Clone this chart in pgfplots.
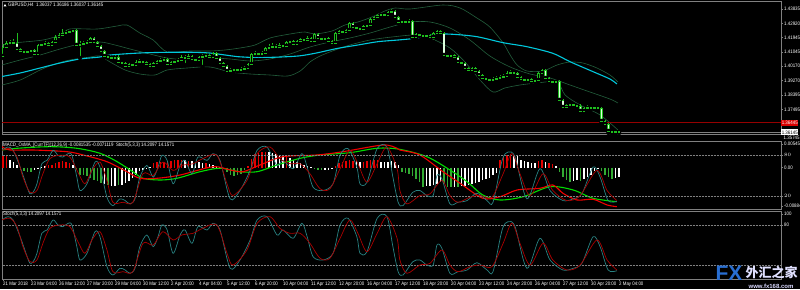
\documentclass[border=0pt]{standalone}
\usepackage{pgfplots}
\pgfplotsset{compat=1.18}
\usepackage{pgfplotstable}
\usepackage{fontspec}
\setmainfont{Liberation Sans}
\newfontfamily\mtfont[FakeStretch=0.88]{Liberation Sans}
\newfontfamily\cjk{Noto Sans CJK SC}
\newcommand{\mts}{\mtfont\fontsize{5}{6}\selectfont}

\definecolor{mtgray}{RGB}{128,128,128}
\definecolor{wick}{RGB}{30,190,30}
\definecolor{bearbody}{RGB}{220,255,220}
\definecolor{bandgreen}{RGB}{35,95,60}
\definecolor{macyan}{RGB}{0,200,220}
\definecolor{stteal}{RGB}{40,130,130}
\definecolor{stred}{RGB}{170,0,0}
\definecolor{histgreen}{RGB}{50,170,50}
\definecolor{histred}{RGB}{230,0,0}
\definecolor{linegreen}{RGB}{0,220,0}
\definecolor{linered}{RGB}{240,0,0}
\definecolor{pricered}{RGB}{150,0,0}
\definecolor{fxblue}{RGB}{40,110,210}

\pgfplotstableread{
i o h l c
0 1.40780 1.41560 1.40650 1.41365
1 1.41365 1.41755 1.41300 1.41625
2 1.41625 1.41820 1.41560 1.41690
3 1.41690 1.41885 1.41560 1.41625
4 1.41625 1.42275 1.41170 1.41235
5 1.41235 1.41300 1.41040 1.41105
6 1.41105 1.41170 1.40975 1.41040
7 1.41040 1.41170 1.40975 1.41105
8 1.41105 1.41235 1.41040 1.41170
9 1.41170 1.41235 1.40845 1.40910
10 1.40910 1.41560 1.40780 1.41495
11 1.41495 1.41625 1.41430 1.41560
12 1.41560 1.41755 1.41495 1.41625
13 1.41625 1.41690 1.41430 1.41495
14 1.41495 1.41755 1.41430 1.41690
15 1.41690 1.42145 1.41625 1.42015
16 1.42015 1.42275 1.41950 1.42145
17 1.42145 1.42535 1.42080 1.42275
18 1.42275 1.42470 1.42210 1.42340
19 1.42340 1.42470 1.42275 1.42405
20 1.42405 1.42535 1.42340 1.42470
21 1.42470 1.42535 1.41430 1.41495
22 1.41495 1.41755 1.40650 1.41560
23 1.41560 1.41755 1.41495 1.41625
24 1.41625 1.41820 1.41560 1.41690
25 1.41690 1.42015 1.41625 1.41950
26 1.41950 1.42015 1.41625 1.41690
27 1.41690 1.41755 1.41365 1.41430
28 1.41430 1.41495 1.41040 1.41105
29 1.41105 1.41170 1.40715 1.40780
30 1.40780 1.40845 1.40650 1.40715
31 1.40715 1.40780 1.40585 1.40650
32 1.40650 1.40845 1.40585 1.40715
33 1.40715 1.40845 1.40325 1.40390
34 1.40390 1.40455 1.40260 1.40325
35 1.40325 1.40390 1.40065 1.40130
36 1.40130 1.40325 1.40065 1.40260
37 1.40260 1.40325 1.40130 1.40195
38 1.40195 1.40520 1.40130 1.40390
39 1.40390 1.40585 1.40325 1.40455
40 1.40455 1.40520 1.40325 1.40390
41 1.40390 1.40455 1.40195 1.40260
42 1.40260 1.40325 1.40065 1.40130
43 1.40130 1.40390 1.40065 1.40325
44 1.40325 1.40520 1.40260 1.40455
45 1.40455 1.40650 1.40390 1.40520
46 1.40520 1.40715 1.40455 1.40585
47 1.40585 1.40650 1.40195 1.40260
48 1.40260 1.40455 1.40195 1.40390
49 1.40390 1.40520 1.40325 1.40455
50 1.40455 1.40650 1.40390 1.40520
51 1.40520 1.40845 1.40455 1.40715
52 1.40715 1.40845 1.40195 1.40650
53 1.40650 1.40910 1.40585 1.40780
54 1.40780 1.40845 1.40520 1.40585
55 1.40585 1.40650 1.40455 1.40520
56 1.40520 1.40780 1.40455 1.40715
57 1.40715 1.40910 1.40065 1.40780
58 1.40780 1.40975 1.40715 1.40845
59 1.40845 1.40910 1.40650 1.40715
60 1.40715 1.41040 1.40650 1.40975
61 1.40975 1.41040 1.40585 1.40650
62 1.40650 1.40715 1.40260 1.40325
63 1.40325 1.40390 1.40065 1.40130
64 1.40130 1.40195 1.39545 1.39805
65 1.39805 1.40000 1.39740 1.39870
66 1.39870 1.40000 1.39805 1.39935
67 1.39935 1.40000 1.39805 1.39870
68 1.39870 1.40065 1.39805 1.39935
69 1.39935 1.40130 1.39870 1.40000
70 1.40000 1.40325 1.39935 1.40260
71 1.40260 1.40975 1.40195 1.40910
72 1.40910 1.41105 1.40845 1.40975
73 1.40975 1.41040 1.40845 1.40910
74 1.40910 1.41105 1.40845 1.40975
75 1.40975 1.41365 1.40910 1.41300
76 1.41300 1.41560 1.41235 1.41365
77 1.41365 1.41625 1.41300 1.41430
78 1.41430 1.41560 1.41300 1.41365
79 1.41365 1.41625 1.41300 1.41495
80 1.41495 1.41560 1.41365 1.41430
81 1.41430 1.41755 1.41365 1.41690
82 1.41690 1.41820 1.41625 1.41755
83 1.41755 1.41820 1.41495 1.41560
84 1.41560 1.41820 1.41495 1.41755
85 1.41755 1.41950 1.41690 1.41885
86 1.41885 1.41950 1.41755 1.41820
87 1.41820 1.42080 1.41755 1.41950
88 1.41950 1.42015 1.41690 1.41755
89 1.41755 1.42275 1.41690 1.42210
90 1.42210 1.42275 1.41885 1.41950
91 1.41950 1.42015 1.41820 1.41885
92 1.41885 1.42015 1.41820 1.41950
93 1.41950 1.42015 1.41690 1.41755
94 1.41755 1.41820 1.41560 1.41625
95 1.41625 1.42340 1.41560 1.42275
96 1.42275 1.42470 1.42210 1.42405
97 1.42405 1.42470 1.42275 1.42340
98 1.42340 1.42535 1.42275 1.42470
99 1.42470 1.42990 1.42405 1.42925
100 1.42925 1.42990 1.42600 1.42665
101 1.42665 1.42730 1.42535 1.42600
102 1.42600 1.42665 1.42470 1.42535
103 1.42535 1.42795 1.42470 1.42730
104 1.42730 1.42860 1.42665 1.42795
105 1.42795 1.43250 1.42730 1.43185
106 1.43185 1.43380 1.43120 1.43315
107 1.43315 1.43510 1.43250 1.43445
108 1.43445 1.43575 1.43380 1.43510
109 1.43510 1.43575 1.43380 1.43445
110 1.43445 1.43705 1.43380 1.43640
111 1.43640 1.43835 1.43575 1.43705
112 1.43705 1.43770 1.43250 1.43315
113 1.43315 1.43380 1.42925 1.42990
114 1.42990 1.43120 1.42925 1.43055
115 1.43055 1.43120 1.42925 1.42990
116 1.42990 1.43185 1.42925 1.43055
117 1.43055 1.43120 1.41950 1.42015
118 1.42015 1.42275 1.41950 1.42210
119 1.42210 1.42275 1.42080 1.42145
120 1.42145 1.42210 1.42015 1.42080
121 1.42080 1.42210 1.42015 1.42145
122 1.42145 1.42210 1.41950 1.42015
123 1.42015 1.42340 1.41690 1.42275
124 1.42275 1.42470 1.42015 1.42405
125 1.42405 1.42470 1.42210 1.42275
126 1.42275 1.42340 1.40780 1.40845
127 1.40845 1.40910 1.40715 1.40780
128 1.40780 1.40910 1.40715 1.40845
129 1.40845 1.40910 1.40650 1.40715
130 1.40715 1.40780 1.40325 1.40390
131 1.40390 1.40455 1.40260 1.40325
132 1.40325 1.40390 1.39935 1.40000
133 1.40000 1.40065 1.39805 1.39870
134 1.39870 1.40065 1.39805 1.40000
135 1.40000 1.40065 1.39740 1.39805
136 1.39805 1.39870 1.39480 1.39545
137 1.39545 1.39610 1.39285 1.39350
138 1.39350 1.39415 1.39220 1.39285
139 1.39285 1.39350 1.39155 1.39220
140 1.39220 1.39415 1.39155 1.39285
141 1.39285 1.39480 1.39220 1.39350
142 1.39350 1.39545 1.39285 1.39415
143 1.39415 1.39610 1.39350 1.39480
144 1.39480 1.39805 1.39415 1.39675
145 1.39675 1.39870 1.39610 1.39740
146 1.39740 1.39805 1.39610 1.39675
147 1.39675 1.39740 1.39350 1.39415
148 1.39415 1.39480 1.39220 1.39285
149 1.39285 1.39350 1.39155 1.39220
150 1.39220 1.39350 1.39155 1.39285
151 1.39285 1.39350 1.39090 1.39155
152 1.39155 1.39285 1.39090 1.39220
153 1.39220 1.39740 1.38960 1.39675
154 1.39675 1.39935 1.39545 1.39870
155 1.39870 1.39935 1.39285 1.39350
156 1.39350 1.39415 1.39090 1.39155
157 1.39155 1.39220 1.39025 1.39090
158 1.39090 1.39220 1.39025 1.39155
159 1.39155 1.39220 1.37855 1.37920
160 1.37920 1.37985 1.37400 1.37465
161 1.37465 1.37660 1.37400 1.37595
162 1.37595 1.37725 1.37530 1.37660
163 1.37660 1.37725 1.37530 1.37595
164 1.37595 1.37660 1.37465 1.37530
165 1.37530 1.37660 1.37140 1.37205
166 1.37205 1.37465 1.37140 1.37400
167 1.37400 1.37595 1.37335 1.37465
168 1.37465 1.37530 1.37335 1.37400
169 1.37400 1.37530 1.37335 1.37465
170 1.37465 1.37530 1.37335 1.37400
171 1.37400 1.37465 1.36490 1.36555
172 1.36555 1.36620 1.36230 1.36360
173 1.36360 1.36425 1.35775 1.35905
174 1.35905 1.35970 1.35710 1.35840
175 1.35840 1.35970 1.35710 1.35905
176 1.35905 1.35970 1.35775 1.35840
}\candles

\pgfplotstableread{
i s
-0.3 87.3
1.4 92.2
2.9 87.3
4.9 62.6
6.9 33.0
7.7 23.2
8.6 25.6
9.7 38.0
11.1 67.6
12.6 72.5
14.3 87.3
15.7 79.9
17.1 77.4
18.6 82.4
19.7 79.9
21.1 47.8
22.0 28.1
24.0 38.0
26.3 70.0
27.7 62.6
29.7 18.2
31.4 5.9
33.4 15.8
34.9 13.3
36.3 8.4
37.7 15.8
39.1 47.8
41.1 65.1
42.9 47.8
44.3 62.6
45.4 79.9
46.9 72.5
48.6 38.0
50.6 65.1
52.0 72.5
54.0 52.8
55.7 77.4
58.3 72.5
60.0 82.4
62.0 72.5
64.9 15.8
67.7 28.1
70.6 57.7
72.6 87.3
75.4 92.2
78.3 65.1
80.0 72.5
82.9 60.2
85.4 82.4
86.9 62.6
88.6 33.0
91.4 28.1
94.3 38.0
96.3 79.9
98.6 89.8
101.1 62.6
102.0 38.0
104.0 40.4
106.9 89.8
109.7 92.2
111.4 47.8
112.9 10.8
114.3 5.9
117.1 25.6
119.1 28.1
121.1 20.7
122.9 20.7
124.0 50.3
125.4 45.4
127.7 8.4
130.0 10.8
132.6 13.3
135.4 24.1
138.3 13.3
140.0 10.8
142.6 72.5
144.3 84.8
146.3 77.4
149.7 15.8
153.4 60.2
156.3 28.1
160.0 13.3
162.9 15.8
165.4 23.2
168.6 62.6
170.6 47.8
172.9 13.3
175.4 12.3
}\stochmain

\pgfplotstableread{
i s
-0.3 87.3
2.0 89.8
4.0 77.4
5.7 47.8
7.7 25.6
9.7 28.1
11.4 52.8
13.4 75.0
16.3 79.9
19.1 77.4
21.4 55.2
23.4 38.0
25.4 57.7
27.7 70.0
29.7 42.9
31.4 10.8
34.3 10.8
37.1 10.8
40.0 52.8
42.9 50.3
45.7 70.0
48.6 57.7
51.1 65.1
54.3 67.6
57.1 75.0
61.1 79.9
64.0 38.0
65.7 20.7
69.7 42.9
72.6 82.4
76.3 92.2
79.1 75.0
82.0 67.6
84.9 67.6
87.7 52.8
90.6 30.6
93.4 30.6
96.3 60.2
99.1 87.3
101.4 67.6
104.0 40.4
106.9 67.6
109.7 92.2
112.6 60.0
113.4 28.1
115.4 8.4
119.1 20.7
122.0 23.2
125.4 42.9
127.7 20.7
130.0 10.8
133.4 18.2
136.3 20.7
139.7 18.2
142.9 52.8
145.4 82.4
147.7 52.8
150.6 20.7
154.3 52.8
157.1 28.1
161.1 13.3
164.9 20.7
169.7 57.7
172.6 28.1
175.4 13.3
}\stochsig

\pgfplotsset{
  mtpanel/.style={
    scale only axis, width=779pt,
    xmin=-0.286, xmax=222.29,
    axis line style={draw=mtgray, line width=0.6pt},
    xtick=\empty, scaled y ticks=false, scaled x ticks=false,
    ytick pos=right, yticklabel pos=right,
    tick align=outside, major tick length=2pt,
    tick style={draw=mtgray, line width=0.5pt},
    yticklabel style={font=\mts, text=white, inner sep=1pt},
    clip=true,
  },
  mtover/.style={
    scale only axis, width=779pt,
    xmin=-0.286, xmax=222.29,
    axis line style={draw=none},
    xtick=\empty, scaled y ticks=false,
    ytick pos=right, yticklabel pos=right,
    tick align=outside, major tick length=2pt,
    tick style={draw=mtgray, line width=0.5pt},
    yticklabel style={font=\mts, text=white, inner sep=1pt},
    clip=true,
  },
  body/.style={only marks, mark=none, error bars/.cd, y dir=plus, y explicit, error mark=none},
}

\begin{document}
\begin{tikzpicture}[x=1pt,y=1pt]
\path[use as bounding box] (0,0) rectangle (800,289);
\fill[black] (0,0) rectangle (800,289);
\clip (0,0) rectangle (800,289);

% ---------------- main price panel ----------------
\begin{axis}[mtpanel, at={(2pt,155pt)}, anchor=south west, height=132.5pt,
  ymin=1.3571, ymax=1.443225,
  ytick={1.43835,1.42893,1.41970,1.41040,1.40130,1.39188,1.38245,1.37303},
  yticklabels={1.43835,1.42920,1.41945,1.41045,1.40170,1.39270,1.38395,1.37495}]
% bollinger bands
\addplot[bandgreen, line width=0.6pt, smooth] coordinates {
(-0.3,1.41495)(2.9,1.41625)(11.4,1.41820)(16.3,1.42145)(19.1,1.42535)(26.9,1.42535)
(32.6,1.42730)(35.4,1.42795)(39.1,1.42275)(42.9,1.41820)(46.9,1.41040)(53.4,1.41105)
(59.1,1.41105)(63.4,1.41170)(67.7,1.41300)(72,1.41495)(76.3,1.41950)(82,1.42210)
(86.3,1.42340)(89.1,1.42210)(94,1.42405)(97.7,1.42795)(101.4,1.42990)(105.4,1.43315)
(109.1,1.43705)(112,1.43900)(116.3,1.43835)(125.7,1.44095)(130.6,1.43900)(135.4,1.43250)
(139.1,1.42665)(142.9,1.41625)(144.9,1.40845)(146.9,1.40195)(149.7,1.39805)(154.3,1.39805)
(158.3,1.40195)(162,1.40390)(165.7,1.40325)(169.7,1.40000)(173.4,1.39545)(175.7,1.39090)};
\addplot[bandgreen, line width=0.6pt, smooth] coordinates {
(-0.3,1.40195)(4.9,1.40520)(10.6,1.40845)(16.3,1.41235)(22,1.41560)(27.7,1.41690)
(32,1.41495)(36.3,1.41235)(42,1.40910)(46.9,1.40650)(53.4,1.40520)(59.1,1.40650)
(64.9,1.40585)(70.6,1.40455)(76.3,1.40585)(82,1.40910)(87.7,1.41365)(93.4,1.41690)
(99.1,1.41950)(104.9,1.42275)(110.6,1.42665)(116.3,1.42990)(122,1.42990)(127.7,1.42600)
(133.4,1.41820)(139.1,1.40780)(144.9,1.40065)(150.6,1.39610)(156.3,1.39350)(162,1.38895)
(167.7,1.38440)(173.4,1.37985)(175.7,1.37725)};
\addplot[bandgreen, line width=0.6pt, smooth] coordinates {
(-0.3,1.38895)(4.9,1.39220)(10.6,1.39870)(14.9,1.40260)(19.1,1.40520)(24.9,1.40715)
(27.7,1.40780)(30.6,1.40390)(34.9,1.39870)(39.1,1.39610)(43.4,1.39545)(46.9,1.39870)
(52.6,1.40000)(59.1,1.40065)(64.9,1.39740)(70.6,1.39610)(76.3,1.39545)(81.4,1.39480)
(84.9,1.39805)(87.7,1.40390)(90.6,1.40780)(94.9,1.41170)(99.1,1.41495)(104.9,1.41820)
(111.1,1.42015)(117.7,1.42145)(122,1.41950)(127.7,1.41300)(132,1.40390)(136.3,1.39220)
(140,1.38440)(143.4,1.38700)(147.7,1.38895)(152.6,1.39025)(158.3,1.39090)(160.6,1.38245)
(164.9,1.37595)(170.6,1.36945)(175.7,1.35970)};
% long moving average
\addplot[macyan, line width=1.1pt, smooth] coordinates {
(-0.3,1.39448)(4.9,1.39675)(10.6,1.40000)(16.3,1.40325)(22,1.40585)(27.7,1.40715)
(30.6,1.40845)(39.1,1.40975)(46.9,1.41020)(54.3,1.41020)(59.1,1.40975)(61.4,1.40910)
(67.1,1.40735)(70,1.40696)(76.9,1.40696)(84.3,1.40780)(89.1,1.40955)(95.7,1.41280)
(101.4,1.41495)(107.1,1.41710)(112.9,1.41820)(117.7,1.41930)(124,1.42190)(128.6,1.42190)
(135.4,1.42035)(142.9,1.41645)(149.7,1.41385)(157.1,1.40955)(162,1.40410)(168.6,1.39760)
(173.4,1.39285)(175.4,1.38960)};
% price lines
\addplot[pricered, line width=0.6pt] coordinates {(-1,1.36445)(223,1.36445)};
\addplot[mtgray, line width=0.6pt] coordinates {(-1,1.35820)(223,1.35820)};
% candles: wicks
\addplot[body, error bar style={draw=wick, line width=0.8pt}]
  table[x=i, y=l, y error expr=\thisrow{h}-\thisrow{l}] {\candles};
% bull bodies (hollow)
\addplot[restrict expr to domain={\thisrow{c}-\thisrow{o}}{0:1}, body,
  error bar style={draw=wick, line width=2.5pt}]
  table[x=i, y=o, y error expr=\thisrow{c}-\thisrow{o}] {\candles};
\addplot[restrict expr to domain={\thisrow{c}-\thisrow{o}}{0:1}, body,
  error bar style={draw=black, line width=1.0pt}]
  table[x=i, y=o, y error expr=\thisrow{c}-\thisrow{o}] {\candles};
% bear bodies (filled)
\addplot[restrict expr to domain={\thisrow{o}-\thisrow{c}}{0:1}, body,
  error bar style={draw=wick, line width=2.5pt}]
  table[x=i, y=c, y error expr=\thisrow{o}-\thisrow{c}] {\candles};
\addplot[restrict expr to domain={\thisrow{o}-\thisrow{c}}{0:1}, body,
  error bar style={draw=bearbody, line width=1.1pt}]
  table[x=i, y=c, y error expr=\thisrow{o}-\thisrow{c}] {\candles};
% top and bottom edges of the bodies
\addplot[only marks, mark=-, mark size=1.25pt, mark options={draw=wick, line width=0.7pt}]
  table[x=i, y=o] {\candles};
\addplot[only marks, mark=-, mark size=1.25pt, mark options={draw=wick, line width=0.7pt}]
  table[x=i, y=c] {\candles};
\end{axis}

% ---------------- MACD / OsMA panel ----------------
\begin{axis}[mtpanel, at={(2pt,79.4pt)}, anchor=south west, height=67.9pt,
  ymin=-0.008842, ymax=0.005458,
  ytick={0.004974,0,-0.008084},
  yticklabels={0.005458,0.00,-0.008842}]
\addplot[ycomb, histred, line width=1.3pt] coordinates {
(0,0.0025)(1,0.0026)(13,0.0005)(14,0.0006)(15,0.0009)(16,0.0012)(17,0.0013)(18,0.0012)(19,0.0010)
(43,0.0009)(44,0.0011)(45,0.0012)(46,0.0011)(47,0.0012)(48,0.0013)(49,0.0015)(50,0.0016)(51,0.0016)
(53,0.0014)(58,0.0009)(70,0.0004)(71,0.0018)(72,0.0028)(73,0.0030)(74,0.0032)(75,0.0032)(81,0.0025)
(95,0.0003)(96,0.0009)(97,0.0012)(98,0.0013)(99,0.0015)(100,0.0014)(103,0.0012)(104,0.0013)
(105,0.0015)(106,0.0016)(107,0.0015)(142,0.0015)(143,0.0024)(144,0.0026)(145,0.0028)(153,0.0013)
(154,0.0015)(156,0.0010)(157,0.0008)};
\addplot[ycomb, histgreen, line width=1.3pt] coordinates {
(5,-0.0005)(6,-0.0008)(7,-0.0010)(8,-0.0009)(21,-0.0006)(22,-0.0015)(23,-0.0016)(24,-0.0017)
(25,-0.0022)(26,-0.0026)(27,-0.0028)(28,-0.0032)(30,-0.0036)(33,-0.0037)(63,-0.0003)(64,-0.0010)
(65,-0.0015)(66,-0.0017)(67,-0.0016)(68,-0.0013)(69,-0.0006)(89,-0.0003)(90,-0.0004)(91,-0.0005)
(114,-0.0010)(115,-0.0012)(116,-0.0014)(117,-0.0018)(118,-0.0023)(119,-0.0030)(120,-0.0040)
(126,-0.0035)(127,-0.0040)(128,-0.0041)(130,-0.0041)(159,-0.0010)(160,-0.0020)(161,-0.0026)
(162,-0.0030)(165,-0.0028)(171,-0.0008)(172,-0.0015)(173,-0.0020)(174,-0.0024)};
\addplot[ycomb, white, line width=1.3pt] coordinates {
(2,0.0016)(3,0.0012)(4,0.0005)(9,-0.0004)(10,-0.0002)(11,0.0002)(12,0.0003)(20,0.0006)
(29,-0.0034)(31,-0.0038)(32,-0.0039)(34,-0.0036)(35,-0.0033)(36,-0.0028)(37,-0.0022)(38,-0.0015)
(39,-0.0008)(40,-0.0004)(41,-0.0002)(42,0.0002)(52,0.0015)(54,0.0013)(55,0.0011)(56,0.0012)
(57,0.0010)(59,0.0008)(60,0.0006)(61,0.0003)(62,0.0001)(76,0.0033)(77,0.0030)(78,0.0029)
(79,0.0026)(80,0.0024)(82,0.0020)(83,0.0016)(84,0.0012)(85,0.0009)(86,0.0006)(87,0.0004)
(88,0.0002)(92,-0.0004)(93,-0.0005)(94,-0.0002)(101,0.0013)(102,0.0012)(108,0.0012)(109,0.0011)
(110,0.0012)(111,0.0013)(112,0.0011)(113,0.0006)(121,-0.0038)(122,-0.0039)(123,-0.0036)
(124,-0.0034)(125,-0.0030)(129,-0.0040)(131,-0.0039)(132,-0.0038)(133,-0.0036)(134,-0.0034)
(135,-0.0032)(136,-0.0030)(137,-0.0027)(138,-0.0024)(139,-0.0021)(140,-0.0016)(141,-0.0012)
(146,0.0027)(147,0.0025)(148,0.0016)(149,0.0013)(150,0.0012)(151,0.0010)(152,0.0009)(155,0.0012)
(158,0.0003)(163,-0.0028)(164,-0.0026)(166,-0.0024)(167,-0.0020)(168,-0.0015)(169,-0.0008)
(170,-0.0002)(175,-0.0022)(176,-0.0020)};
\addplot[linegreen, line width=1.1pt, smooth] coordinates {
(-0.3,0.00371)(4,0.00407)(13.4,0.00441)(21.1,0.00407)(27.7,0.00302)(32.6,0.00125)
(37.1,-0.00086)(40,-0.00225)(44.9,-0.00261)(49.7,-0.00225)(56.3,-0.00086)(62,-0.00014)
(67.7,-0.00086)(72.6,-0.00086)(78.3,0.00055)(84.9,0.00196)(90.6,0.00266)(99.1,0.00314)
(106.9,0.00407)(113,0.00390)(121.1,0.00230)(127.7,-0.00050)(132.6,-0.00297)(137.1,-0.00577)
(142,-0.00682)(148.6,-0.00613)(156.3,-0.00402)(162.9,-0.00471)(168.6,-0.00646)(175.4,-0.00718)};
\addplot[linered, line width=1.1pt, smooth] coordinates {
(-0.3,0.00441)(2,0.00371)(8.6,0.00371)(18.3,0.00335)(22.9,0.00266)(29.7,0.00125)
(35.4,-0.00086)(39.1,-0.00225)(44,-0.00225)(50.6,-0.00156)(60,0.00019)(64.9,-0.00050)
(68.6,-0.00086)(73.4,0.00055)(80,0.00230)(89.7,0.00266)(97.1,0.00335)(108.6,0.00476)
(112.6,0.00407)(113.4,0.00371)(119.1,0.00266)(125.7,-0.00086)(130.6,-0.00330)(137.1,-0.00646)
(142,-0.00613)(146.9,-0.00471)(153.4,-0.00436)(157.1,-0.00366)(160,-0.00541)(164,-0.00682)
(168.6,-0.00667)(172.6,-0.00787)(175.4,-0.00823)};
\end{axis}
\begin{axis}[mtover, at={(2pt,79.4pt)}, anchor=south west, height=67.9pt,
  ymin=0, ymax=100, ytick={80,20}]
\addplot[mtgray, line width=0.5pt, densely dotted] coordinates {(-1,80)(223,80)};
\addplot[mtgray, line width=0.5pt, densely dotted] coordinates {(-1,20)(223,20)};
\addplot[stteal, line width=0.7pt, smooth] table[x=i, y=s] {\stochmain};
\addplot[stred, line width=0.7pt, smooth] table[x=i, y=s] {\stochsig};
\end{axis}

% ---------------- Stochastic panel ----------------
\begin{axis}[mtpanel, at={(2pt,10pt)}, anchor=south west, height=67.6pt,
  ymin=0, ymax=100, ytick={96.2,80}, yticklabels={100,80},
  xtick={0,8,...,176}, xtick pos=bottom,
  xticklabels={21 Mar 2018,23 Mar 04:00,26 Mar 12:00,27 Mar 20:00,29 Mar 04:00,30 Mar 12:00,
    2 Apr 20:00,4 Apr 04:00,5 Apr 12:00,6 Apr 20:00,10 Apr 04:00,11 Apr 12:00,12 Apr 20:00,
    16 Apr 04:00,17 Apr 12:00,18 Apr 20:00,20 Apr 04:00,23 Apr 12:00,24 Apr 20:00,26 Apr 04:00,
    27 Apr 12:00,30 Apr 20:00,2 May 04:00},
  xticklabel style={font=\mts, text=white, anchor=north west, inner sep=0.5pt, xshift=-0.5pt}]
\addplot[mtgray, line width=0.5pt, densely dotted] coordinates {(-1,80)(223,80)};
\addplot[mtgray, line width=0.5pt, densely dotted] coordinates {(-1,20)(223,20)};
\addplot[stteal, line width=0.7pt, smooth] table[x=i, y=s] {\stochmain};
\addplot[stred, line width=0.7pt, smooth] table[x=i, y=s] {\stochsig};
\end{axis}

% ---------------- texts ----------------
\fill[white] (3.5,282.5) -- (6.5,282.5) -- (5,285) -- cycle;
\node[anchor=west, inner sep=0pt, text=white, font=\mts] at (8,284) {GBPUSD,H4\ \ 1.36037 1.36186 1.36037 1.36145};
\node[anchor=west, inner sep=0pt, text=white, font=\mts] at (3,143.5) {MACD\_OsMA\_[CurrTF](12,26,9) -0.0081535 -0.0071119\ \ Stoch(5,3,3) 14.2097 14.1571};
\node[anchor=west, inner sep=0pt, text=white, font=\mts] at (3,74.5) {Stoch(5,3,3) 14.2097 14.1571};
% price boxes at the right
\node[anchor=west, fill=red!85!black, text=white, font=\mts, inner sep=0.6pt, minimum height=6pt] at (781,166) {1.36445};
\node[anchor=west, fill=white, text=black, font=\mts, inner sep=0.6pt, minimum height=6pt] at (781,156.5) {1.36145};
\node[anchor=west, text=white, font=\mts, inner sep=0.5pt] at (783,151) {1.35745};
% watermark
\node[text=fxblue, font=\bfseries\fontsize{21}{21}\selectfont, inner sep=0pt] at (729,16) {FX};
\node[text=white!88!blue, font=\cjk\bfseries\fontsize{13}{13}\selectfont, inner sep=0pt] at (771.5,17) {外汇之家};
\node[text=white!85!blue, font=\bfseries\fontsize{6}{6}\selectfont, inner sep=0pt] at (771,3) {www.fx168.com};
\end{tikzpicture}
\end{document}
